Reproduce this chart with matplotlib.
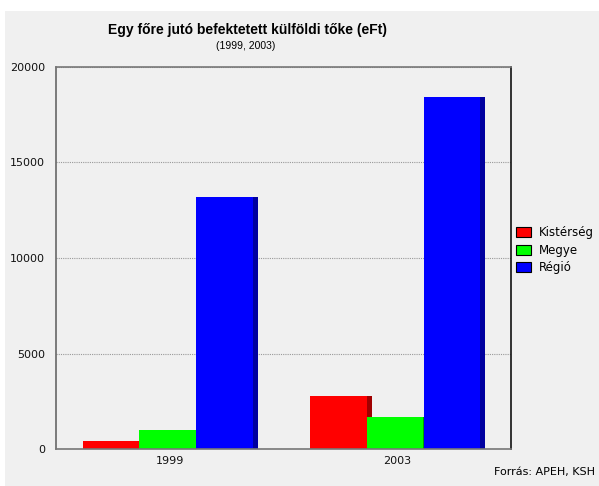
import matplotlib.pyplot as plt
from matplotlib.patches import Rectangle, Patch
import numpy as np

evek = ["1999", "2003"]
sorozatok = ["Kistérség", "Megye", "Régió"]
kisterseg = [420, 2770]
megye = [1000, 1670]
regio = [13200, 18420]

szinek = ["#ff0000", "#00ff00", "#0000ff"]
oldal_szinek = ["#a00000", "#00a000", "#0000a0"]

fig = plt.figure(figsize=(5.99, 4.86), dpi=100, facecolor="white")
fig.patches.append(Rectangle((5 / 599, 0), 594 / 599, 475 / 486, transform=fig.transFigure,
                             facecolor="#f0f0f0", edgecolor="none", zorder=-10))

ax = fig.add_axes([56 / 599, 37 / 486, 455 / 599, 382 / 486])
ax.set_facecolor("#f0f0f0")

x = np.arange(len(evek))
szel = 0.248
eltol = [-0.258, -0.009, 0.24]
melyseg = 0.022

for i, ertekek in enumerate([kisterseg, megye, regio]):
    # oldallap (3D hatas)
    ax.bar(x + eltol[i] + melyseg, ertekek, szel, color=oldal_szinek[i], zorder=2)
    ax.bar(x + eltol[i], ertekek, szel, color=szinek[i], zorder=3)

ax.set_xlim(-0.5, 1.5)
ax.set_ylim(0, 20000)
ax.set_yticks([0, 5000, 10000, 15000, 20000])
ax.set_xticks(x)
ax.set_xticklabels(evek)
ax.tick_params(length=0, labelsize=8, colors="#111111")
ax.tick_params(axis="y", pad=8)
ax.tick_params(axis="x", pad=5)

ax.yaxis.grid(True, linestyle=(0, (1, 1)), color="#999999", linewidth=0.8, zorder=1)
ax.set_axisbelow(True)

ax.spines["left"].set_color("#666666")
ax.spines["left"].set_linewidth(1.2)
ax.spines["right"].set_color("#111111")
ax.spines["right"].set_linewidth(1.2)
for s in ["top", "bottom"]:
    ax.spines[s].set_linestyle((0, (1, 1)))
    ax.spines[s].set_color("#777777")
    ax.spines[s].set_linewidth(1.2)
ax.spines["bottom"].set_zorder(5)

fig.text(247 / 599, 1 - 30 / 486, "Egy főre jutó befektetett külföldi tőke (eFt)",
         ha="center", va="center", fontsize=10, fontweight="bold", family="Liberation Sans")
fig.text(246 / 599, 1 - 46 / 486, "(1999, 2003)", ha="center", va="center",
         fontsize=7.5, family="Liberation Sans")

fogantyuk = [Patch(facecolor=szinek[i], edgecolor="black", linewidth=0.8) for i in range(3)]
fig.legend(fogantyuk, sorozatok, loc="upper left", bbox_to_anchor=(516 / 599, 1 - 226 / 486),
           frameon=False, fontsize=8.5, handlelength=1.3, handleheight=0.9,
           labelspacing=0.4, handletextpad=0.6, borderaxespad=0, borderpad=0)

fig.text(595 / 599, 1 - 472 / 486, "Forrás: APEH, KSH", ha="right", va="center", fontsize=8)

plt.savefig("out.png", dpi=100)
plt.close()
